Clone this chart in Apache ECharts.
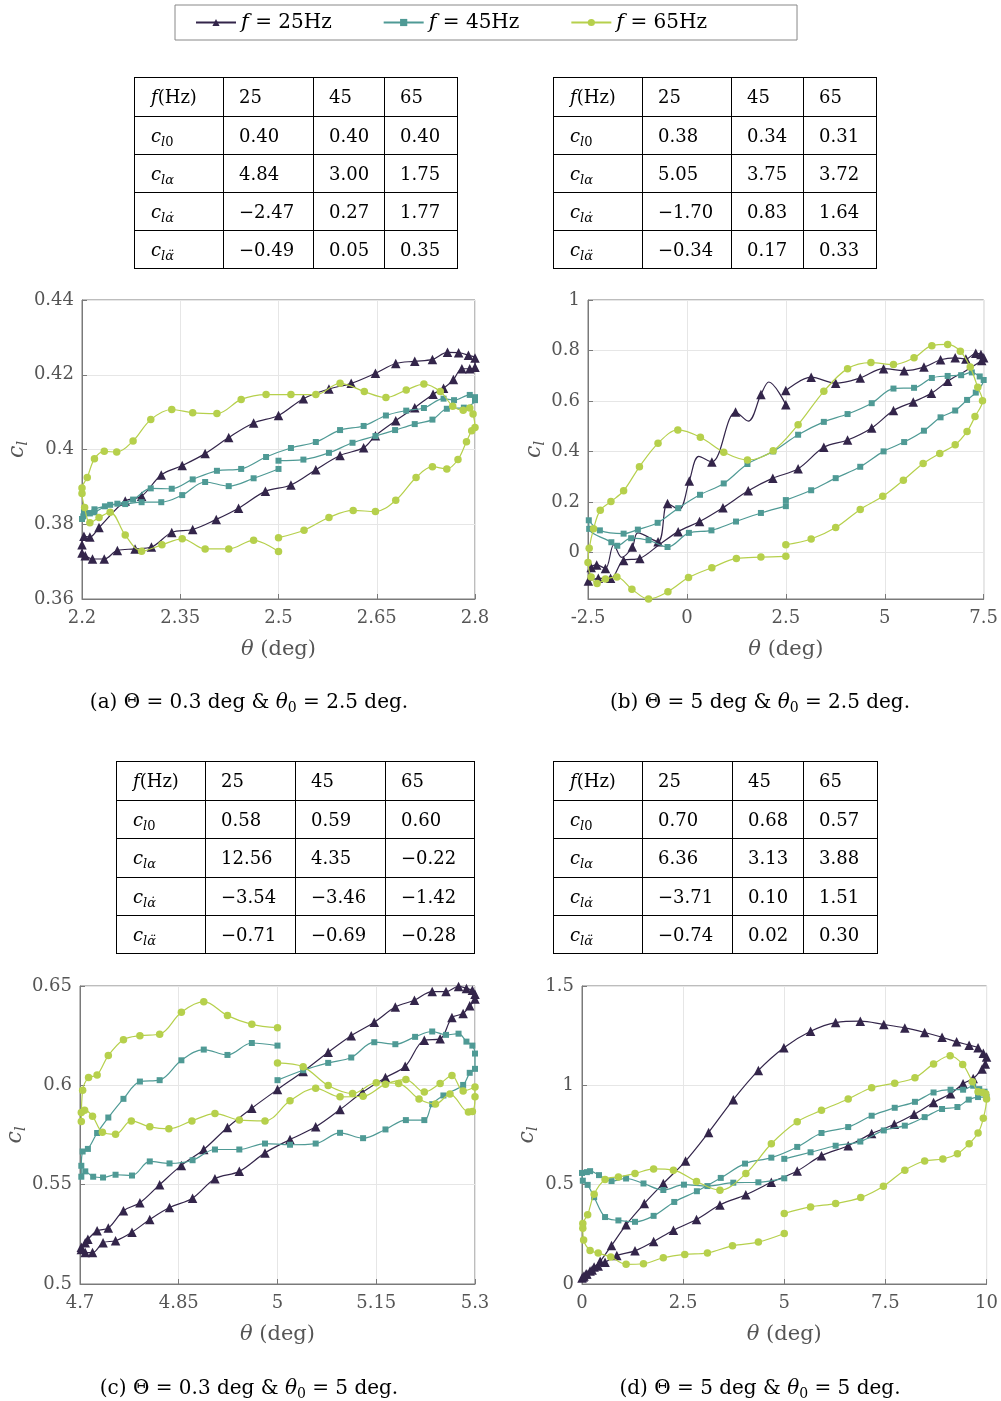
<!DOCTYPE html>
<html><head><meta charset="utf-8">
<script src="https://cdn.jsdelivr.net/npm/echarts@6/dist/echarts.min.js"></script>
<style>html,body{margin:0;padding:0;background:#fff}#c{width:1001px;height:1401px}</style>
</head><body><div id="c"></div><script>
// ---------- data (third element 0 = curve point without marker) ----------
const a25 = [[2.2,0.3723],[2.205,0.3716],[2.216,0.3707],[2.234,0.3707],[2.254,0.373],[2.281,0.3734],[2.306,0.3739],[2.337,0.3778],[2.369,0.3786],[2.405,0.3813],[2.439,0.3843],[2.48,0.3888],[2.519,0.3905],[2.557,0.3946],[2.594,0.3984],[2.63,0.4005],[2.648,0.4037],[2.679,0.4077],[2.708,0.4112],[2.736,0.4148],[2.752,0.4164],[2.767,0.4187],[2.78,0.4216],[2.792,0.4216],[2.8,0.422],[2.8,0.4245],[2.79,0.4252],[2.775,0.4259],[2.758,0.426],[2.735,0.4241],[2.708,0.4236],[2.679,0.423],[2.648,0.4204],[2.611,0.4177],[2.577,0.4162],[2.538,0.4136],[2.5,0.4091],[2.462,0.4071],[2.424,0.4032],[2.388,0.3989],[2.353,0.3957],[2.321,0.3932],[2.291,0.3875],[2.266,0.3862],[2.226,0.3791],[2.212,0.3766],[2.203,0.3768],[2.2,0.3745]];
const a45 = [[2.5,0.397],[2.538,0.3973],[2.577,0.3991],[2.613,0.4018],[2.648,0.4036],[2.678,0.4052],[2.708,0.4068],[2.735,0.408],[2.757,0.4109],[2.783,0.4112],[2.8,0.4132],[2.8,0.414],[2.792,0.4146],[2.768,0.4132],[2.752,0.4136],[2.722,0.4111],[2.695,0.4104],[2.664,0.4091],[2.63,0.4063],[2.594,0.4052],[2.557,0.402],[2.519,0.4004],[2.481,0.398],[2.443,0.3948],[2.406,0.3943],[2.369,0.392],[2.337,0.3895],[2.305,0.3896],[2.278,0.3866],[2.254,0.3855],[2.235,0.3848],[2.219,0.384],[2.209,0.383],[2.202,0.3821],[2.2,0.3814],[2.203,0.3834],[2.212,0.3829],[2.219,0.3832],[2.243,0.3852],[2.266,0.3854],[2.291,0.3859],[2.321,0.3859],[2.353,0.3878],[2.388,0.3913],[2.424,0.3902],[2.462,0.3923],[2.5,0.3948]];
const a65 = [[2.5,0.3764],[2.539,0.3784],[2.577,0.3818],[2.614,0.3837],[2.648,0.3834],[2.679,0.3864],[2.71,0.3925],[2.735,0.3954],[2.757,0.3948],[2.774,0.3973],[2.787,0.4021],[2.795,0.405],[2.8,0.4059],[2.797,0.4095],[2.792,0.4111],[2.782,0.4105],[2.766,0.4116],[2.747,0.4155],[2.722,0.4175],[2.695,0.4159],[2.664,0.4139],[2.631,0.4155],[2.594,0.4177],[2.557,0.4147],[2.519,0.4147],[2.481,0.4147],[2.443,0.4134],[2.406,0.4096],[2.369,0.4098],[2.337,0.4107],[2.305,0.408],[2.278,0.4023],[2.253,0.3993],[2.234,0.3995],[2.219,0.3975],[2.208,0.3925],[2.2,0.3897],[2.2,0.3882],[2.204,0.3845],[2.212,0.3804],[2.226,0.3818],[2.243,0.3832],[2.266,0.3771],[2.291,0.3728],[2.322,0.3745],[2.353,0.3761],[2.388,0.3734],[2.424,0.3734],[2.462,0.3757],[2.5,0.3727]];

const b25 = [[2.5,0.641],[3.14,0.694],[3.76,0.670],[4.38,0.691],[4.97,0.728],[5.49,0.72],[5.99,0.734],[6.41,0.763],[6.78,0.771],[7.05,0.766],[7.3,0.789],[7.43,0.784],[7.5,0.771],[7.45,0.76],[7.05,0.72,0],[6.59,0.678],[6.18,0.630],[5.72,0.596],[5.22,0.562],[4.67,0.493],[4.06,0.445],[3.46,0.416],[2.81,0.331],[2.17,0.294],[1.55,0.244],[0.91,0.177],[0.32,0.122],[-0.22,0.082],[-0.7,0.03,0],[-1.19,-0.024],[-1.6,-0.032],[-1.93,-0.103],[-2.24,-0.103],[-2.49,-0.114],[-2.42,-0.06],[-2.28,-0.05],[-2.06,-0.064],[-1.85,0.03,0],[-1.65,-0.02,0],[-1.38,0.021],[-1.24,0.077,0],[-0.73,0.042],[-0.49,0.193],[-0.2,0.17,0],[0.06,0.283],[0.3,0.38,0],[0.63,0.358],[1.23,0.556],[1.55,0.52,0],[1.87,0.625],[2.07,0.675,0],[2.5,0.585]];
const b45 = [[2.5,0.207],[3.14,0.246],[3.76,0.294],[4.38,0.339],[4.97,0.4],[5.49,0.437],[5.99,0.482],[6.41,0.535],[6.78,0.562],[7.08,0.604],[7.3,0.633],[7.5,0.683],[7.4,0.697],[7.2,0.713],[6.93,0.702],[6.59,0.699],[6.19,0.691],[5.74,0.652],[5.22,0.649],[4.67,0.591],[4.06,0.548],[3.46,0.517],[2.81,0.466],[2.18,0.4],[1.53,0.35],[0.93,0.273],[0.33,0.228],[-0.22,0.175],[-0.74,0.117],[-1.24,0.09],[-1.6,0.074],[-2.2,0.087],[-2.48,0.127],[-2.47,0.093],[-1.91,0.04],[-1.76,0.026],[-1.41,0.056],[-0.97,0.048],[-0.49,0.021],[0.05,0.077],[0.62,0.087],[1.24,0.122],[1.87,0.156],[2.5,0.183]];
const b65 = [[2.5,0.03],[3.14,0.053],[3.76,0.098],[4.38,0.17],[4.95,0.222],[5.47,0.286],[5.97,0.352],[6.39,0.392],[6.78,0.426],[7.08,0.479],[7.28,0.538],[7.47,0.601],[7.35,0.654],[7.16,0.734],[6.91,0.797],[6.59,0.824],[6.19,0.819],[5.74,0.771],[5.22,0.744],[4.65,0.752],[4.06,0.728],[3.46,0.638],[2.81,0.506],[2.18,0.403],[1.53,0.366],[0.93,0.397],[0.34,0.456],[-0.23,0.485],[-0.73,0.432],[-1.2,0.339],[-1.6,0.244],[-1.92,0.201],[-2.19,0.167],[-2.36,0.093],[-2.47,0.016],[-2.5,-0.04],[-2.42,-0.098],[-2.27,-0.124],[-2.06,-0.106],[-1.77,-0.098],[-1.39,-0.146],[-0.97,-0.185],[-0.48,-0.156],[0.04,-0.10],[0.63,-0.061],[1.25,-0.024],[1.87,-0.019],[2.5,-0.016]];

const c25 = [[4.702,0.5185],[4.708,0.5208],[4.712,0.5225],[4.726,0.5268],[4.743,0.5282],[4.766,0.5369],[4.791,0.5409],[4.821,0.55],[4.854,0.5597],[4.888,0.5677],[4.924,0.5788],[4.961,0.5885],[5.0,0.5979],[5.039,0.607],[5.077,0.6167],[5.112,0.625],[5.147,0.6317],[5.179,0.6394],[5.208,0.6428],[5.235,0.6472],[5.256,0.6472],[5.275,0.6498],[5.287,0.6488],[5.296,0.6478],[5.3,0.6458],[5.3,0.6435],[5.292,0.6401],[5.282,0.6361],[5.265,0.6341],[5.247,0.6234],[5.223,0.6227],[5.194,0.6096],[5.164,0.6039],[5.129,0.5965],[5.095,0.5878],[5.058,0.5791],[5.019,0.5727],[4.981,0.566],[4.942,0.5567],[4.905,0.553],[4.871,0.5432],[4.836,0.5385],[4.806,0.5325],[4.779,0.5261],[4.754,0.5218],[4.735,0.5208],[4.719,0.5158],[4.708,0.5158],[4.702,0.5174]];
const c45 = [[5.0,0.6026],[5.039,0.6076],[5.077,0.6113],[5.112,0.614],[5.147,0.6217],[5.179,0.6207],[5.209,0.6244],[5.235,0.6271],[5.256,0.6254],[5.275,0.626],[5.287,0.622],[5.296,0.62],[5.3,0.616],[5.3,0.6083],[5.292,0.6063],[5.282,0.6002],[5.252,0.5949],[5.235,0.5905],[5.223,0.5825],[5.195,0.5825],[5.164,0.5778],[5.13,0.5734],[5.095,0.5761],[5.058,0.5707],[5.019,0.5701],[4.981,0.5707],[4.942,0.5677],[4.905,0.5677],[4.871,0.5623],[4.836,0.5607],[4.806,0.5617],[4.779,0.5546],[4.754,0.555],[4.735,0.5536],[4.72,0.554],[4.708,0.5567],[4.702,0.554],[4.702,0.5595],[4.704,0.5667],[4.712,0.568],[4.726,0.576],[4.743,0.5838],[4.766,0.5932],[4.791,0.6019],[4.821,0.6026],[4.854,0.6126],[4.888,0.618],[4.924,0.6153],[4.961,0.6213],[5.0,0.62]];
const c65 = [[5.0,0.6113],[5.039,0.6093],[5.077,0.5999],[5.114,0.5959],[5.15,0.6013],[5.184,0.6009],[5.215,0.5931],[5.24,0.5906],[5.262,0.5956],[5.29,0.5866],[5.296,0.5868],[5.3,0.5942],[5.3,0.5992],[5.282,0.5972],[5.265,0.6049],[5.247,0.6009],[5.223,0.5966],[5.195,0.6029],[5.164,0.6006],[5.13,0.5945],[5.095,0.5942],[5.058,0.5985],[5.019,0.5922],[4.981,0.5821],[4.942,0.5825],[4.905,0.5858],[4.87,0.5821],[4.835,0.5781],[4.806,0.5791],[4.778,0.5821],[4.754,0.5754],[4.734,0.5764],[4.719,0.5845],[4.707,0.5875],[4.702,0.5863],[4.702,0.5818],[4.704,0.5975],[4.713,0.6039],[4.726,0.6052],[4.743,0.615],[4.766,0.623],[4.791,0.625],[4.821,0.6257],[4.854,0.6368],[4.888,0.6421],[4.924,0.6351],[4.961,0.6307],[5.0,0.629]];

const d25 = [[0,0.03],[0.05,0.04],[0.1,0.05],[0.2,0.065],[0.3,0.085],[0.45,0.114],[0.73,0.194],[1.09,0.298],[1.54,0.405],[2.01,0.506],[2.56,0.619],[3.13,0.763],[3.74,0.928],[4.36,1.075],[4.99,1.189],[5.65,1.272],[6.27,1.316],[6.88,1.323],[7.46,1.306],[7.98,1.289],[8.47,1.266],[8.9,1.242],[9.26,1.219],[9.57,1.202],[9.79,1.189],[9.92,1.162],[10.0,1.142],[9.97,1.108],[9.89,1.082],[9.67,1.035],[9.42,1.008],[9.11,0.958],[8.69,0.914],[8.21,0.854],[7.72,0.804],[7.16,0.757],[6.58,0.696],[5.92,0.646],[5.32,0.569],[4.68,0.512],[4.05,0.449],[3.41,0.398],[2.83,0.325],[2.26,0.271],[1.77,0.214],[1.31,0.167],[0.86,0.144],[0.57,0.109],[0.4,0.09],[0.25,0.07],[0.12,0.05],[0.03,0.035]];
const d45 = [[5.0,0.63],[5.65,0.663],[6.27,0.696],[6.88,0.717],[7.46,0.773],[7.98,0.797],[8.47,0.84],[8.9,0.881],[9.28,0.891],[9.56,0.928],[9.79,0.941],[10,0.941],[9.95,0.968],[9.82,0.981],[9.67,0.998],[9.42,0.978],[9.11,0.978],[8.69,0.964],[8.23,0.917],[7.73,0.887],[7.16,0.847],[6.58,0.79],[5.92,0.76],[5.32,0.69],[4.68,0.636],[4.03,0.606],[3.43,0.534],[2.84,0.467],[2.28,0.413],[1.77,0.343],[1.31,0.313],[0.9,0.32],[0.57,0.337],[0.3,0.437],[0.14,0.499],[0.02,0.52],[0,0.559],[0.12,0.563],[0.2,0.568],[0.42,0.548],[0.73,0.518],[1.09,0.531],[1.52,0.506],[2.01,0.473],[2.52,0.5],[3.1,0.493],[3.74,0.51],[4.36,0.512],[5.0,0.532]];
const d65 = [[5.0,0.355],[5.65,0.388],[6.27,0.405],[6.89,0.435],[7.45,0.492],[7.98,0.573],[8.47,0.619],[8.92,0.629],[9.28,0.656],[9.57,0.706],[9.79,0.76],[9.92,0.834],[10,0.931],[9.98,0.958],[9.9,0.964],[9.79,0.968],[9.65,1.018],[9.41,1.105],[9.1,1.149],[8.69,1.108],[8.23,1.038],[7.73,1.011],[7.16,0.988],[6.58,0.931],[5.92,0.874],[5.32,0.817],[4.68,0.706],[4.05,0.556],[3.41,0.472],[2.83,0.516],[2.26,0.573],[1.77,0.579],[1.31,0.556],[0.9,0.539],[0.57,0.526],[0.3,0.452],[0.14,0.348],[0.02,0.305],[0.02,0.281],[0.04,0.222],[0.2,0.169],[0.4,0.156],[0.71,0.136],[1.09,0.099],[1.52,0.102],[2.01,0.132],[2.54,0.149],[3.1,0.156],[3.72,0.192],[4.36,0.211],[5.0,0.254]];

// tick values
const xTicksA = [2.2,2.35,2.5,2.65,2.8], yTicksA = [0.36,0.38,0.4,0.42,0.44];
const xTicksB = [-2.5,0,2.5,5,7.5],     yTicksB = [0,0.2,0.4,0.6,0.8,1];
const xTicksC = [4.7,4.85,5,5.15,5.3],  yTicksC = [0.5,0.55,0.6,0.65];
const xTicksD = [0,2.5,5,7.5,10],       yTicksD = [0,0.5,1,1.5];

// table contents
const tblHead = ['25','45','65'];
const tA = [['0.40','0.40','0.40'],['4.84','3.00','1.75'],['\u22122.47','0.27','1.77'],['\u22120.49','0.05','0.35']];
const tB = [['0.38','0.34','0.31'],['5.05','3.75','3.72'],['\u22121.70','0.83','1.64'],['\u22120.34','0.17','0.33']];
const tC = [['0.58','0.59','0.60'],['12.56','4.35','\u22120.22'],['\u22123.54','\u22123.46','\u22121.42'],['\u22120.71','\u22120.69','\u22120.28']];
const tD = [['0.70','0.68','0.57'],['6.36','3.13','3.88'],['\u22123.71','0.10','1.51'],['\u22120.74','0.02','0.30']];

const captions = ['(a) \u0398 = 0.3 deg & {i|\u03b8}{s|0} = 2.5 deg.','(b) \u0398 = 5 deg & {i|\u03b8}{s|0} = 2.5 deg.','(c) \u0398 = 0.3 deg & {i|\u03b8}{s|0} = 5 deg.','(d) \u0398 = 5 deg & {i|\u03b8}{s|0} = 5 deg.'];
const names = ['f = 25Hz','f = 45Hz','f = 65Hz'];

// ---------- styling / layout ----------
const FONT = 'DejaVu Serif';
const COLORS = ['#33254a','#4f9a95','#b6d04c'];
const SYMS = ['triangle','rect','circle'];
const SYMSZ = [9.5, 6, 7.5];
const AX = '#7a7a7a', LAB = '#555555';

const gridsPos = [
  {left:82, top:300, width:393, height:299},
  {left:588, top:300, width:398, height:299},
  {left:80, top:986, width:395, height:298},
  {left:582, top:986, width:405, height:298}
];
const ranges = [
  {x:[2.2,2.8], y:[0.36,0.44], xt:xTicksA, yt:yTicksA, yGap:48},
  {x:[-2.5,7.5], y:[-0.185,1], xt:xTicksB, yt:yTicksB, yGap:38},
  {x:[4.7,5.3], y:[0.5,0.65], xt:xTicksC, yt:yTicksC, yGap:49},
  {x:[0,10], y:[0,1.5], xt:xTicksD, yt:yTicksD, yGap:42}
];
const fmt = v => String(+(+v).toFixed(4));
const richAx = {
  i:{fontStyle:'italic', fontFamily:FONT, fontSize:21, color:LAB},
  s:{fontStyle:'italic', fontFamily:FONT, fontSize:14, color:LAB, verticalAlign:'bottom', lineHeight:14}
};

const grid = gridsPos.map(g => Object.assign({show:true, borderColor:AX, borderWidth:1, backgroundColor:'transparent'}, g));
const xAxis = ranges.map((r,i) => ({
  type:'value', gridIndex:i, min:r.x[0], max:r.x[1],
  axisLine:{show:true, onZero:false, lineStyle:{color:AX, width:1}},
  axisTick:{show:true, inside:true, length:5, customValues:r.xt, lineStyle:{color:AX}},
  axisLabel:{customValues:r.xt, color:LAB, fontFamily:FONT, fontSize:18, margin:10, formatter:fmt},
  splitLine:{show:true, lineStyle:{color:'#e6e6e6', width:1}},
  name:'{i|\u03b8} (deg)', nameLocation:'middle', nameGap:40,
  nameTextStyle:{color:LAB, fontFamily:FONT, fontSize:21, rich:richAx}
}));
const yAxis = ranges.map((r,i) => ({
  type:'value', gridIndex:i, min:r.y[0], max:r.y[1],
  axisLine:{show:true, onZero:false, lineStyle:{color:AX, width:1}},
  axisTick:{show:true, inside:true, length:5, customValues:r.yt, lineStyle:{color:AX}},
  axisLabel:{customValues:r.yt, color:LAB, fontFamily:FONT, fontSize:18, margin:8, formatter:fmt},
  splitLine:{show:true, lineStyle:{color:'#e6e6e6', width:1}},
  name:'{i|c}{s|l}', nameLocation:'middle', nameGap:r.yGap, nameRotate:90,
  nameTextStyle:{color:LAB, fontFamily:FONT, fontSize:21, rich:{
    i:{fontStyle:'italic', fontFamily:FONT, fontSize:22, color:LAB, lineHeight:26, verticalAlign:'middle'},
    s:{fontStyle:'italic', fontFamily:FONT, fontSize:14, color:LAB, lineHeight:14, verticalAlign:'bottom'}}}
}));

const plots = [[a25,a45,a65],[b25,b45,b65],[c25,c45,c65],[d25,d45,d65]];
const series = [];
plots.forEach((set, gi) => set.forEach((pts, k) => {
  series.push({
    type:'line', name:names[k], xAxisIndex:gi, yAxisIndex:gi,
    data: pts.map(p => (p.length > 2 && p[2] === 0) ? {value:[p[0],p[1]], symbol:'none'} : [p[0],p[1]]),
    symbol:SYMS[k], symbolSize:SYMSZ[k], smooth:0.35, showAllSymbol:true,
    lineStyle:{color:COLORS[k], width:1.2}, itemStyle:{color:COLORS[k]},
    z:2+k, animation:false, silent:true
  });
}));

// ---------- tables & captions via graphic ----------
const rowLabels = ['{i|f}(Hz)','{i|c}{si|l}{s|0}','{i|c}{si|l\u03b1}','{i|c}{si|l\u03b1\u0307}','{i|c}{si|l\u03b1\u0308}'];
const tRich = {
  i:{fontStyle:'italic', fontFamily:FONT, fontSize:18, lineHeight:24, verticalAlign:'middle', fill:'#000'},
  si:{fontStyle:'italic', fontFamily:FONT, fontSize:13, lineHeight:13, verticalAlign:'bottom', fill:'#000'},
  s:{fontFamily:FONT, fontSize:13, lineHeight:13, verticalAlign:'bottom', fill:'#000'}
};
function table(cols, rows, vals) {
  const els = [];
  const x0 = cols[0], x1 = cols[cols.length-1], y0 = rows[0], y1 = rows[rows.length-1];
  cols.forEach(x => els.push({type:'line', shape:{x1:x+0.5, y1:y0, x2:x+0.5, y2:y1+1}, style:{stroke:'#000', lineWidth:1}}));
  rows.forEach(y => els.push({type:'line', shape:{x1:x0, y1:y+0.5, x2:x1+1, y2:y+0.5}, style:{stroke:'#000', lineWidth:1}}));
  for (let r = 0; r < 5; r++) {
    const yc = (rows[r] + rows[r+1]) / 2 + 2;
    els.push({type:'text', x:cols[0]+17, y:yc, style:{text:rowLabels[r], rich:tRich, fontFamily:FONT, fontSize:18, fill:'#000', align:'left', verticalAlign:'middle'}});
    for (let c = 0; c < 3; c++) {
      const t = r === 0 ? tblHead[c] : vals[r-1][c];
      els.push({type:'text', x:cols[c+1]+16, y:yc, style:{text:t, fontFamily:FONT, fontSize:18, fill:'#000', align:'left', verticalAlign:'middle'}});
    }
  }
  return els;
}
const capRich = {
  i:{fontStyle:'italic', fontFamily:FONT, fontSize:20, lineHeight:24, verticalAlign:'middle', fill:'#000'},
  s:{fontFamily:FONT, fontSize:14, lineHeight:14, verticalAlign:'bottom', fill:'#000'}
};
const rowsTop = [77,116,154,192,230,268], rowsBot = [761,800,838,877,915,953];
let graphics = [];
graphics = graphics.concat(table([134,223,313,384,457], rowsTop, tA));
graphics = graphics.concat(table([553,642,731,803,876], rowsTop, tB));
graphics = graphics.concat(table([116,205,295,385,474], rowsBot, tC));
graphics = graphics.concat(table([553,642,732,803,877], rowsBot, tD));
const capPos = [[249,703],[760,703],[249,1389],[760,1389]];
capPos.forEach((p,i) => graphics.push({type:'text', x:p[0], y:p[1], style:{text:captions[i], rich:capRich, fontFamily:FONT, fontSize:20, fill:'#000', align:'center', verticalAlign:'middle'}}));

const chart = echarts.init(document.getElementById('c'), null, {renderer:'canvas'});
chart.setOption({
  animation:false,
  backgroundColor:'#fff',
  legend:{
    data:names, left:175, top:5, orient:'horizontal', selectedMode:false,
    itemWidth:40, itemHeight:9, itemGap:51, padding:[7,90,7,20],
    borderColor:'#888', borderWidth:1,
    formatter: n => '{i|f} =' + n.slice(3),
    textStyle:{fontFamily:FONT, fontSize:20, color:'#000', rich:{i:{fontStyle:'italic', fontFamily:FONT, fontSize:21, color:'#000'}}}
  },
  grid, xAxis, yAxis, series,
  graphic:{elements:graphics}
});
</script></body></html>
